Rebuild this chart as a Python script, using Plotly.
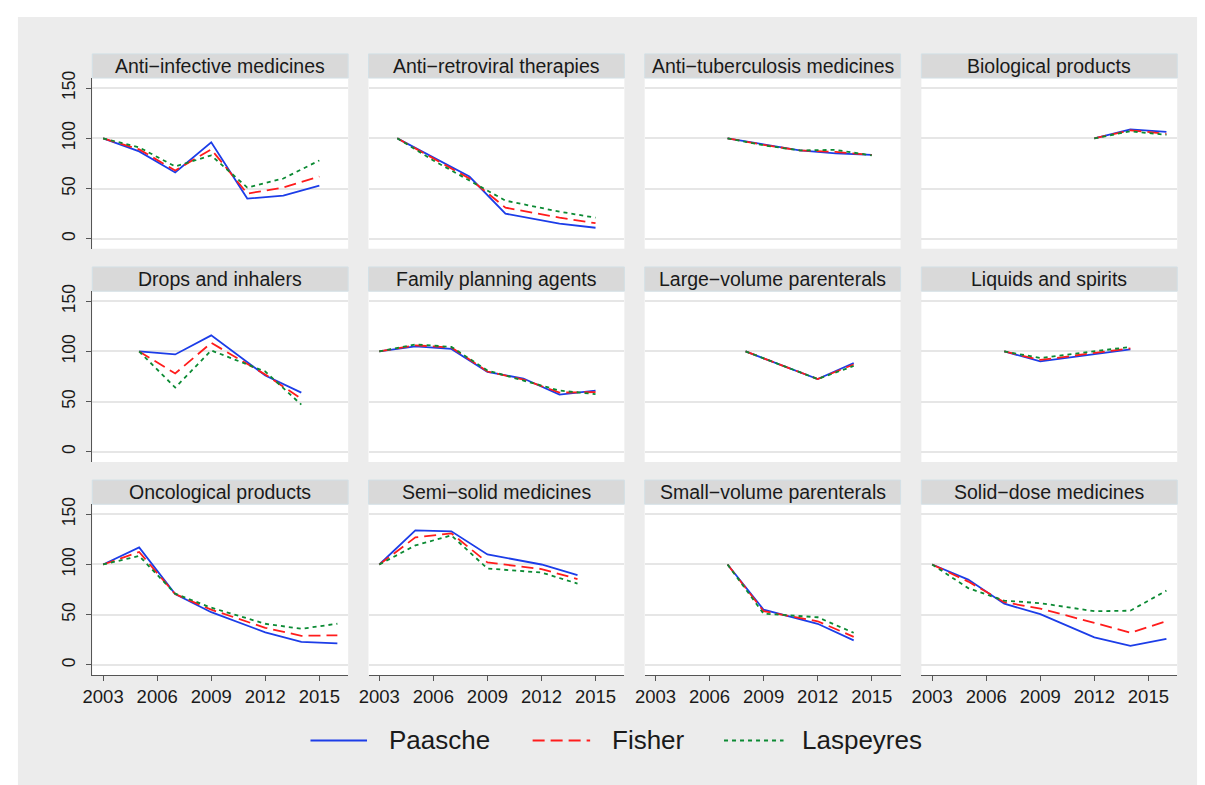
import plotly.graph_objects as go

# ---------------- data ----------------
PANELS = [
    "Anti\u2212infective medicines", "Anti\u2212retroviral therapies",
    "Anti\u2212tuberculosis medicines", "Biological products",
    "Drops and inhalers", "Family planning agents",
    "Large\u2212volume parenterals", "Liquids and spirits",
    "Oncological products", "Semi\u2212solid medicines",
    "Small\u2212volume parenterals", "Solid\u2212dose medicines",
]
YEARS = [
    [2003, 2005, 2007, 2009, 2011, 2013, 2015],
    [2004, 2006, 2008, 2010, 2013, 2015],
    [2007, 2009, 2011, 2013, 2015],
    [2012, 2014, 2016],
    [2005, 2007, 2009, 2012, 2014],
    [2003, 2005, 2007, 2009, 2011, 2013, 2015],
    [2008, 2012, 2014],
    [2007, 2009, 2014],
    [2003, 2005, 2007, 2009, 2012, 2014, 2016],
    [2003, 2005, 2007, 2009, 2012, 2014],
    [2007, 2009, 2012, 2014],
    [2003, 2005, 2007, 2009, 2012, 2014, 2016],
]
PAASCHE = [
    [100, 87, 66, 96, 40, 43, 53],
    [100, 81, 62, 25, 15, 11],
    [100, 94, 88, 85, 83.5],
    [100, 109, 106.5],
    [100, 97, 116, 76, 59],
    [100, 105, 102.5, 79.5, 73, 57, 61],
    [100, 72.5, 88.5],
    [100, 90, 102],
    [100, 117, 70.5, 52.5, 32.5, 23, 21.5],
    [100, 134, 133, 110, 100, 89.5],
    [100, 55, 41, 24.5],
    [100, 85, 61, 50.5, 27.5, 19, 26],
]
FISHER = [
    [100, 89, 68, 89, 45, 51, 62],
    [100, 80, 60, 31, 21, 15.5],
    [100, 93.5, 88, 86.5, 83.5],
    [100, 108, 104.5],
    [100, 78, 108.5, 77, 53],
    [100, 106, 104, 80, 72, 59, 59.5],
    [100, 72.5, 87],
    [100, 91.5, 103],
    [100, 112.5, 70.5, 55, 37, 29, 29.5],
    [100, 127, 131, 102, 95.5, 85.5],
    [100, 53.5, 43.5, 28],
    [100, 83, 62.5, 56, 42, 32, 43.5],
]
LASPEYRES = [
    [100, 91, 72, 83, 51, 60, 78],
    [100, 78, 58, 38, 27, 21],
    [100, 93, 88, 88.5, 83],
    [100, 107, 103.5],
    [100, 64, 101, 80, 47],
    [100, 107, 104.5, 81, 71, 61, 57.5],
    [100, 72.5, 85.5],
    [100, 93.5, 104.5],
    [100, 108.5, 71, 57, 41, 36, 41],
    [100, 119, 129, 96, 92, 81],
    [100, 51, 47.5, 32],
    [100, 76.5, 64, 61.5, 53.5, 54, 74],
]
SERIES_NAMES = ["Paasche", "Fisher", "Laspeyres"]
X_TICKS = [2003, 2006, 2009, 2012, 2015]
Y_TICKS = [0, 50, 100, 150]

# ---------------- styling ----------------
W, H = 1205, 785
FONT = "Liberation Sans, Arial, Helvetica, sans-serif"
COLORS = ["#1c3de8", "#ff1c1c", "#0b8a33"]
DASHES = ["solid", "12px,6px", "4px,4px"]
OUTER_BG = "#ececec"
HEAD_BG = "#d9d9d9"
GRID = "#e6e6e6"
AXIS = "#555555"
TEXT = "#1a1a1a"

col_left = [83, 361.5, 640, 919]
col_w = 258
row_top = [71.7, 286.7, 501.7]
plot_h = 172.3
head_h = 24.4


def px(x):
    return x / W


def py(y):
    return 1 - y / H


fig = go.Figure()
shapes = []
annotations = []

# outer grey background
shapes.append(dict(type="rect", xref="paper", yref="paper", x0=px(8), x1=px(1197),
                   y0=py(785), y1=py(10), fillcolor=OUTER_BG, line=dict(width=0), layer="below"))

series_data = [PAASCHE, FISHER, LASPEYRES]
layout_axes = {}
for i, name in enumerate(PANELS):
    r, c = divmod(i, 4)
    n = i + 1
    for s, sname in enumerate(SERIES_NAMES):
        fig.add_trace(go.Scatter(
            x=YEARS[i], y=series_data[s][i], mode="lines", name=sname,
            legendgroup=sname, showlegend=False,
            line=dict(color=COLORS[s], width=1.8, dash=DASHES[s]),
            xaxis=f"x{n}", yaxis=f"y{n}", hoverinfo="x+y+name"))
    x0, x1 = px(col_left[c]), px(col_left[c] + col_w)
    y0, y1 = py(row_top[r] + plot_h), py(row_top[r])
    # white plot area
    shapes.append(dict(type="rect", xref="paper", yref="paper", x0=x0, x1=x1, y0=y0, y1=y1,
                       fillcolor="white", line=dict(width=0), layer="below"))
    # header strip
    shapes.append(dict(type="rect", xref="paper", yref="paper", x0=x0, x1=x1,
                       y0=y1, y1=py(row_top[r] - head_h), fillcolor=HEAD_BG,
                       line=dict(width=1, color="#d3e0e6"), layer="below"))
    annotations.append(dict(text=name, xref="paper", yref="paper", x=(x0 + x1) / 2,
                            y=py(row_top[r] - head_h / 2), xanchor="center", yanchor="middle",
                            showarrow=False, font=dict(family=FONT, size=19.5, color=TEXT)))
    bottom = r == 2
    left = c == 0
    layout_axes["xaxis" if n == 1 else f"xaxis{n}"] = dict(
        domain=[x0, x1], range=[2002.4, 2016.6], anchor=f"y{n}",
        tickmode="array", tickvals=X_TICKS, showticklabels=bottom,
        ticks="outside" if bottom else "", ticklen=5, tickwidth=1.3, tickcolor=AXIS,
        showline=bottom, linecolor=AXIS, linewidth=1.3, showgrid=False, zeroline=False,
        tickfont=dict(family=FONT, size=18.5, color=TEXT))
    layout_axes["yaxis" if n == 1 else f"yaxis{n}"] = dict(
        domain=[y0, y1], range=[-10, 160], anchor=f"x{n}",
        tickmode="array", tickvals=Y_TICKS, showticklabels=left, tickangle=-90,
        ticks="outside" if left else "", ticklen=5, tickwidth=1.3, tickcolor=AXIS,
        ticklabelstandoff=4,
        showline=left, linecolor=AXIS, linewidth=1.3, showgrid=True, gridcolor=GRID,
        gridwidth=1.5, zeroline=False,
        tickfont=dict(family=FONT, size=17.5, color=TEXT))

# manual legend
leg_y = 740
leg_items = [(303, 360, 380), (527, 585, 605), (720, 780, 797)]
for s, (lx0, lx1, tx) in enumerate(leg_items):
    shapes.append(dict(type="line", xref="paper", yref="paper", x0=px(lx0), x1=px(lx1),
                       y0=py(leg_y), y1=py(leg_y),
                       line=dict(color=COLORS[s], width=2, dash=DASHES[s])))
    annotations.append(dict(text=SERIES_NAMES[s], xref="paper", yref="paper", x=px(tx),
                            y=py(leg_y), xanchor="left", yanchor="middle", showarrow=False,
                            font=dict(family=FONT, size=26, color=TEXT)))

fig.update_layout(
    width=W, height=H, margin=dict(l=0, r=0, t=0, b=0),
    paper_bgcolor="white", plot_bgcolor="rgba(0,0,0,0)",
    showlegend=False, shapes=shapes, annotations=annotations,
    font=dict(family=FONT), **layout_axes)

fig.write_html("out.html", config={"displayModeBar": False},
               post_script="document.body.style.margin='0';document.body.style.padding='0';")
